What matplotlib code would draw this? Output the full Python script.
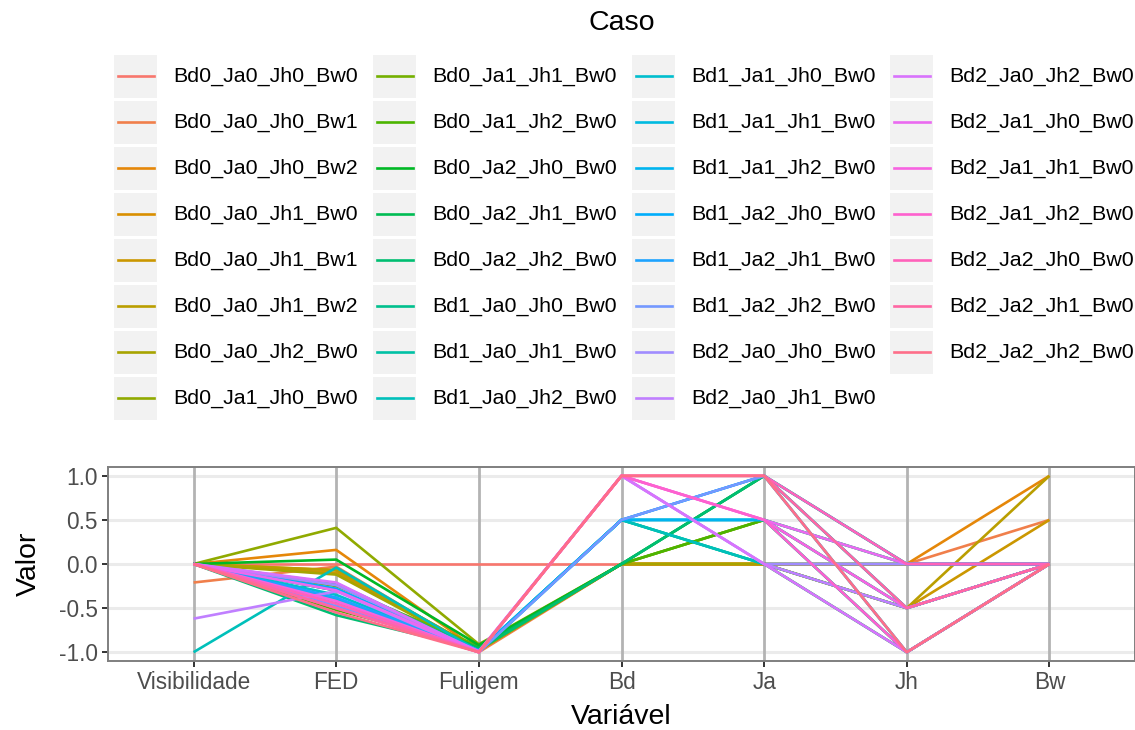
import numpy as np
import matplotlib
matplotlib.use("Agg")
import matplotlib.pyplot as plt
from matplotlib.patches import Rectangle
from matplotlib.lines import Line2D

plt.rcParams['font.family'] = ['Liberation Sans', 'DejaVu Sans']

variables = ["Visibilidade", "FED", "Fuligem", "Bd", "Ja", "Jh", "Bw"]

casos = [
    "Bd0_Ja0_Jh0_Bw0", "Bd0_Ja0_Jh0_Bw1", "Bd0_Ja0_Jh0_Bw2", "Bd0_Ja0_Jh1_Bw0",
    "Bd0_Ja0_Jh1_Bw1", "Bd0_Ja0_Jh1_Bw2", "Bd0_Ja0_Jh2_Bw0", "Bd0_Ja1_Jh0_Bw0",
    "Bd0_Ja1_Jh1_Bw0", "Bd0_Ja1_Jh2_Bw0", "Bd0_Ja2_Jh0_Bw0", "Bd0_Ja2_Jh1_Bw0",
    "Bd0_Ja2_Jh2_Bw0", "Bd1_Ja0_Jh0_Bw0", "Bd1_Ja0_Jh1_Bw0", "Bd1_Ja0_Jh2_Bw0",
    "Bd1_Ja1_Jh0_Bw0", "Bd1_Ja1_Jh1_Bw0", "Bd1_Ja1_Jh2_Bw0", "Bd1_Ja2_Jh0_Bw0",
    "Bd1_Ja2_Jh1_Bw0", "Bd1_Ja2_Jh2_Bw0", "Bd2_Ja0_Jh0_Bw0", "Bd2_Ja0_Jh1_Bw0",
    "Bd2_Ja0_Jh2_Bw0", "Bd2_Ja1_Jh0_Bw0", "Bd2_Ja1_Jh1_Bw0", "Bd2_Ja1_Jh2_Bw0",
    "Bd2_Ja2_Jh0_Bw0", "Bd2_Ja2_Jh1_Bw0", "Bd2_Ja2_Jh2_Bw0",
]

visibilidade = [0.0, -0.21, 0.0, 0.0, 0.0, 0.0, 0.0, 0.0,
                0.0, 0.0, 0.0, 0.0, 0.0, 0.0, 0.0, -1.0,
                0.0, 0.0, 0.0, 0.0, 0.0, 0.0, 0.0, -0.62,
                0.0, 0.0, 0.0, 0.0, 0.0, 0.0, 0.0]
fed = [0.0, -0.03, 0.16, -0.07, -0.10, -0.07, -0.12, 0.41,
       -0.25, -0.52, 0.05, -0.30, -0.58, -0.22, -0.30, -0.04,
       -0.35, -0.40, -0.45, -0.28, -0.38, -0.48, -0.24, -0.31,
       -0.21, -0.30, -0.42, -0.50, -0.45, -0.50, -0.55]
fuligem = [0.0, -1.0, -0.98, -0.97, -0.97, -0.97, -0.98, -0.91,
           -0.93, -0.95, -0.92, -0.95, -0.97, -0.98, -0.98, -0.99,
           -0.98, -0.99, -1.0, -0.98, -0.99, -1.0, -0.99, -1.0,
           -1.0, -0.99, -1.0, -1.0, -1.0, -1.0, -1.0]
bd = [0.0] * 13 + [0.5] * 9 + [1.0] * 9
ja = [0.0, 0.0, 0.0, 0.0, 0.0, 0.0, 0.0, 0.5, 0.5, 0.5, 1.0, 1.0, 1.0,
      0.0, 0.0, 0.0, 0.5, 0.5, 0.5, 1.0, 1.0, 1.0,
      0.0, 0.0, 0.0, 0.5, 0.5, 0.5, 1.0, 1.0, 1.0]
jh = [0.0, 0.0, 0.0, -0.5, -0.5, -0.5, -1.0, 0.0, -0.5, -1.0, 0.0, -0.5, -1.0,
      0.0, -0.5, -1.0, 0.0, -0.5, -1.0, 0.0, -0.5, -1.0,
      0.0, -0.5, -1.0, 0.0, -0.5, -1.0, 0.0, -0.5, -1.0]
bw = [0.0, 0.5, 1.0, 0.0, 0.5, 1.0] + [0.0] * 25

y_ticks = [-1.0, -0.5, 0.0, 0.5, 1.0]


def hcl_to_hex(h, c=100.0, l=65.0):
    Xn, Yn, Zn = 95.047, 100.0, 108.883
    h = np.deg2rad(h)
    u = c * np.cos(h)
    v = c * np.sin(h)
    Y = Yn * ((l + 16) / 116) ** 3 if l > 8 else Yn * l / 903.3
    un = 4 * Xn / (Xn + 15 * Yn + 3 * Zn)
    vn = 9 * Yn / (Xn + 15 * Yn + 3 * Zn)
    up = u / (13 * l) + un
    vp = v / (13 * l) + vn
    X = 9.0 * Y * up / (4 * vp)
    Z = -X / 3 - 5 * Y + 3 * Y / vp
    xyz = np.array([X, Y, Z]) / 100.0
    M = np.array([[3.240479, -1.537150, -0.498535],
                  [-0.969256, 1.875992, 0.041556],
                  [0.055648, -0.204043, 1.057311]])
    rgb = M @ xyz
    out = []
    for t in rgb:
        t = 12.92 * t if t <= 0.0031308 else 1.055 * t ** (1 / 2.4) - 0.055
        out.append(min(max(t, 0), 1))
    return matplotlib.colors.to_hex(out)


n = len(casos)
hues = np.linspace(15, 375, n + 1)[:n]
colors = [hcl_to_hex(hh) for hh in hues]

W, H = 1135, 730
fig = plt.figure(figsize=(W / 100, H / 100), dpi=100)

# main panel
L, R, T, B = 108, 1135, 467, 661
ax = fig.add_axes([L / W, 1 - B / H, (R - L) / W, (B - T) / H])
xs = np.arange(1, len(variables) + 1)
ax.set_xlim(0.4, len(variables) + 0.6)
ax.set_ylim(-1.1, 1.1)
for yv in y_ticks:
    ax.axhline(yv, color='#EBEBEB', lw=2.2, zorder=0)
for xv in xs:
    ax.axvline(xv, color='#B3B3B3', lw=2.0, zorder=1)

data = np.array([visibilidade, fed, fuligem, bd, ja, jh, bw]).T
for i in range(n):
    ax.plot(xs, data[i], color=colors[i], lw=1.9, zorder=2 + i * 0.01,
            solid_capstyle='butt')

ax.set_xticks(xs)
ax.set_xticklabels(variables)
ax.set_yticks(y_ticks)
ax.set_yticklabels([f"{v:.1f}" for v in y_ticks])
ax.tick_params(axis='both', labelsize=16.3, colors='#333333', length=4.5,
               width=1.4, labelcolor='#4D4D4D', pad=3)
for s in ax.spines.values():
    s.set_color('#7F7F7F')
    s.set_linewidth(1.4)
ax.set_xlabel("Variável", fontsize=20.5, color='black', labelpad=7)
ax.set_ylabel("Valor", fontsize=20.5, color='black', labelpad=12)

# legend overlay
lg = fig.add_axes([0, 0, 1, 1])
lg.set_xlim(0, W)
lg.set_ylim(H, 0)
lg.axis('off')
lg.patch.set_alpha(0)
lg.text(622, 23, "Caso", fontsize=20.5, ha='center', va='center')
key_x = [114, 373, 632, 890]
text_x = [173, 432, 691, 949]
row_y0, row_dy = 76, 46
nrow = 8
for i, name in enumerate(casos):
    c, r = divmod(i, nrow)
    yc = row_y0 + r * row_dy
    lg.add_patch(Rectangle((key_x[c], yc - 21.5), 43, 43,
                           facecolor='#F2F2F2', edgecolor='none'))
    lg.add_line(Line2D([key_x[c] + 4, key_x[c] + 40], [yc, yc],
                       color=colors[i], lw=1.9))
    lg.text(text_x[c], yc, name, fontsize=15.4, ha='left', va='center')

fig.savefig("out.png", dpi=100)
